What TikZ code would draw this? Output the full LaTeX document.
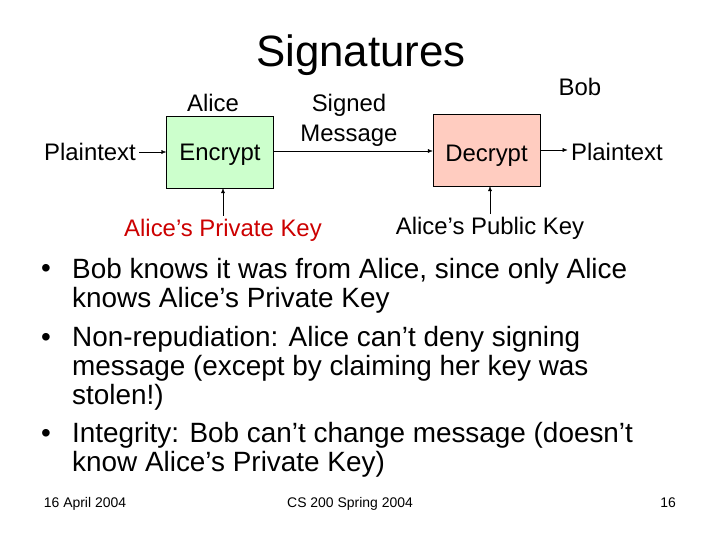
\documentclass[tikz,border=0pt]{standalone}
\usepackage{fontspec}
\setmainfont{Liberation Sans}
\usetikzlibrary{arrows.meta}
\definecolor{encgreen}{RGB}{204,255,204}
\definecolor{decpink}{RGB}{255,204,192}
\definecolor{keyred}{RGB}{204,0,0}
\tikzset{
  body/.style={font=\fontsize{24}{28.8}\selectfont},
  label/.style={body, anchor=base},
  box/.style={draw, minimum width=107bp, minimum height=72bp, text depth=0pt, body},
  flow/.style={-{Latex[length=5bp,width=4bp]}},
  point/.style={font=\fontsize{28}{29}\selectfont, anchor=base west, align=left, inner sep=0pt},
  footer/.style={font=\fontsize{14}{16}\selectfont, anchor=base}
}
\begin{document}
\begin{tikzpicture}[x=1bp,y=-1bp]
		%%%%% START %%%%%
		\useasboundingbox (0,0) rectangle (720,540);
		
		\node[font=\fontsize{44}{52}\selectfont] (title) at (361,55) {Signatures};
		
		% sender side
		\node[label] (plainA) at (90,161) {Plaintext};
		\node[box, fill=encgreen] (enc) at (220,152) {Encrypt};
		\node[label] (alice) at (213,112) {Alice};
		\node[label, text=keyred] (privkey) at (223,236.5) {Alice’s Private Key};
		
		% receiver side
		\node[box, fill=decpink, text height=23bp] (dec) at (486.5,150) {Decrypt};
		\node[label] (bob) at (580,96) {Bob};
		\node[label] (plainB) at (617,160.5) {Plaintext};
		\node[label] (pubkey) at (490,235) {Alice’s Public Key};
		\node[label] (signed) at (349,112) {Signed};
		\node[label] (message) at (349,141.5) {Message};
		
		\draw[flow] (enc.west -| plainA.east) -- (enc.west);
		\draw[flow] (enc.east |- 0,151) -- (dec.west |- 0,151);
		\draw[flow] (dec.east) -- (dec.east -| plainB.west);
		\draw[flow] (privkey.north) -- (privkey.north |- enc.south);
		\draw[flow] (pubkey.north) -- (pubkey.north |- dec.south);
		
		% bullets
		\node[point] (b1) at (72,307) {Bob knows it was from Alice, since only Alice\\knows Alice’s Private Key};
		\node[point] (b2) at (72,404) {Non-repudiation: Alice can’t deny signing\\message (except by claiming her key was\\stolen!)};
		\node[point] (b3) at (72,471.5) {Integrity: Bob can’t change message (doesn’t\\know Alice’s Private Key)};
		\foreach \y [count=\i] in {278,346,442.5}
			\node[point] (dot\i) at (41,\y) {•};
		
		% footer
		\node[footer] (date) at (85,507) {16 April 2004};
		\node[footer] (course) at (350,507) {CS 200 Spring 2004};
		\node[footer] (page) at (668,507) {16};
		%%%%% END %%%%%
\end{tikzpicture}
\end{document}
